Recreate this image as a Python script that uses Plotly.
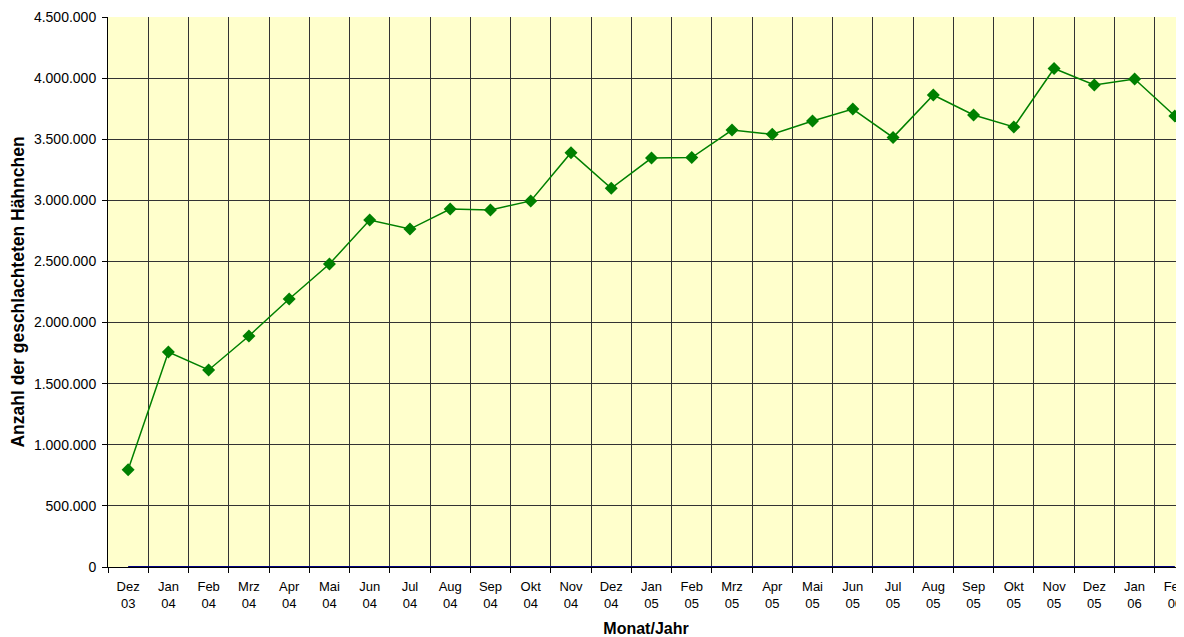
import plotly.graph_objects as go

months = ["Dez", "Jan", "Feb", "Mrz", "Apr", "Mai", "Jun", "Jul", "Aug", "Sep", "Okt", "Nov",
          "Dez", "Jan", "Feb", "Mrz", "Apr", "Mai", "Jun", "Jul", "Aug", "Sep", "Okt", "Nov",
          "Dez", "Jan", "Feb"]
years = ["03", "04", "04", "04", "04", "04", "04", "04", "04", "04", "04", "04",
         "04", "05", "05", "05", "05", "05", "05", "05", "05", "05", "05", "05",
         "05", "06", "06"]
categories = [f"{m}<br>{y}" for m, y in zip(months, years)]

haehnchen = [795000, 1759000, 1612000, 1890000, 2193000, 2479000, 2839000, 2765000,
             2929000, 2921000, 2995000, 3390000, 3098000, 3346000, 3350000, 3575000,
             3540000, 3649000, 3747000, 3515000, 3862000, 3698000, 3600000, 4079000,
             3944000, 3993000, 3690000]
zero_series = [0] * len(categories)

fig = go.Figure()
fig.add_trace(go.Scatter(
    x=categories, y=haehnchen, mode="lines+markers",
    line=dict(color="#008000", width=1.5),
    marker=dict(symbol="diamond", size=10, color="#008000"),
    showlegend=False,
))
fig.add_trace(go.Scatter(
    x=categories, y=zero_series, mode="lines",
    line=dict(color="#000080", width=2), hoverinfo="skip", showlegend=False,
    cliponaxis=False,
))

font = "Liberation Sans, Arial, sans-serif"
fig.update_layout(
    width=1176, height=629,
    margin=dict(l=100, r=0, t=9, b=70),
    paper_bgcolor="white", plot_bgcolor="#FFFFCC",
    separators=",.",
    font=dict(family=font, size=13, color="#000"),
    xaxis=dict(
        type="category", range=[-0.5, 26.227], tickson="boundaries",
        automargin=False, layer="below traces",
        showgrid=True, gridcolor="#333", gridwidth=1,
        ticks="outside", ticklen=5, tickcolor="#000",
        showline=True, linecolor="#000", linewidth=1,
        tickangle=0, tickfont=dict(size=13), ticklabelstandoff=7,
        title=dict(text="<b>Monat/Jahr</b>", font=dict(size=16), standoff=22),
    ),
    yaxis=dict(
        range=[0, 4500000], dtick=500000, tickformat=",d",
        automargin=False,
        showgrid=True, gridcolor="#333", gridwidth=1,
        ticks="outside", ticklen=5, tickcolor="#000",
        showline=True, linecolor="#000", linewidth=1,
        zeroline=False, tickfont=dict(size=14), ticklabelstandoff=3,
        title=dict(text="<b>Anzahl der geschlachteten Hähnchen</b>", font=dict(size=17.5), standoff=6),
    ),
)

fig.write_html("out.html")
